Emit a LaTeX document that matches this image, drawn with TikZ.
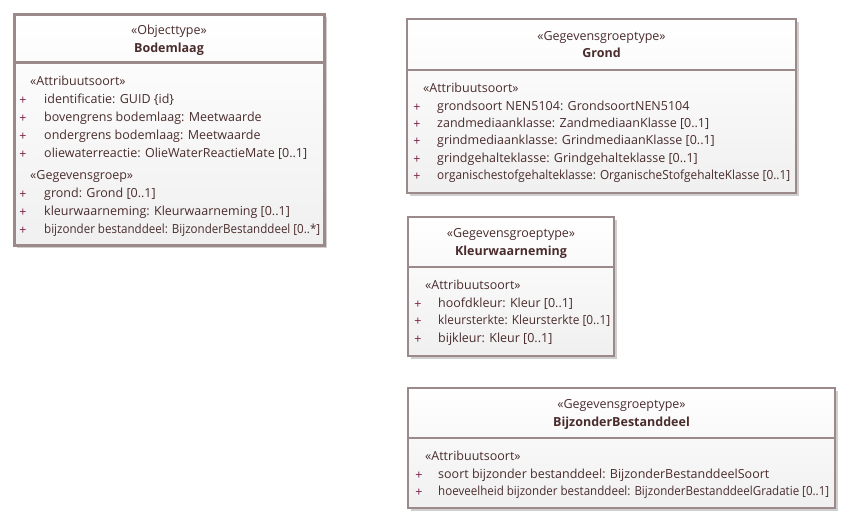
\documentclass[tikz,border=0pt]{standalone}
\usepackage{fontspec}
\usepackage{graphicx}
\setmainfont{Open Sans}
\definecolor{bordo}{HTML}{9C8A8A}
\definecolor{testo}{HTML}{4A2C2C}
\definecolor{piu}{HTML}{7A1E46}
\definecolor{ombra}{HTML}{CFCFCF}
%riga compressa in orizzontale
\newcommand{\stretta}[2]{\resizebox{#1}{\height}{#2}}
\begin{document}
\begin{tikzpicture}[x=1pt,y=-1pt,
    riquadro/.style={draw=bordo,line width=1.5pt,top color=white,bottom color=black!6},
    ombreggiatura/.style={fill=ombra,draw=none},
    stereotipo/.style={text=testo,inner sep=0pt,font=\fontsize{12.5}{14}\selectfont},
    nome/.style={text=testo,inner sep=0pt,font=\fontsize{12.5}{14}\selectfont\bfseries},
    attributo/.style={text=testo,inner sep=0pt,anchor=mid west,font=\fontsize{12.5}{14}\selectfont},
    segno/.style={text=piu,inner sep=0pt,font=\fontsize{12.5}{14}\selectfont}]
    \useasboundingbox (0,0) rectangle (853,525);

    %classe Bodemlaag
    \fill[ombreggiatura](17,17)rectangle(327,248);
    \draw[riquadro,line width=3pt](14,14)rectangle(324,245);
    \draw[bordo,line width=3pt](14,62)--(324,62);
    \node[stereotipo](bod-st)at(169,31){«Objecttype»};
    \node[nome](bod-nm)at(169,49){Bodemlaag};
    \node[attributo](bod-a0)at(30,83){«Attribuutsoort»};
    \foreach \riga [count=\i] in {{identificatie: GUID \{id\}},{bovengrens bodemlaag: Meetwaarde},{ondergrens bodemlaag: Meetwaarde},{oliewaterreactie: OlieWaterReactieMate [0..1]}}{
        \node[segno](bod-p\i)at(23,83+18*\i){+};
        \node[attributo](bod-a\i)at(44,83+18*\i){\riga};
    }
    \node[attributo](bod-g0)at(30,177){«Gegevensgroep»};
    \foreach \riga [count=\i] in {{grond: Grond [0..1]},{kleurwaarneming: Kleurwaarneming [0..1]},{\stretta{276pt}{bijzonder bestanddeel: BijzonderBestanddeel [0..*]}}}{
        \node[segno](bod-q\i)at(23,177+18*\i){+};
        \node[attributo](bod-g\i)at(44,177+18*\i){\riga};
    }

    %classe Grond
    \fill[ombreggiatura](410,22)rectangle(799,196);
    \draw[riquadro](407,19)rectangle(796,193);
    \draw[bordo,line width=1.5pt](407,70)--(796,70);
    \node[stereotipo](gr-st)at(601.5,37){«Gegevensgroeptype»};
    \node[nome](gr-nm)at(601.5,53){Grond};
    \node[attributo](gr-a0)at(423,90){«Attribuutsoort»};
    \foreach \riga [count=\i] in {{grondsoort NEN5104: GrondsoortNEN5104},{zandmediaanklasse: ZandmediaanKlasse [0..1]},{grindmediaanklasse: GrindmediaanKlasse [0..1]},{grindgehalteklasse: Grindgehalteklasse [0..1]},{\stretta{353pt}{organischestofgehalteklasse: OrganischeStofgehalteKlasse [0..1]}}}{
        \node[segno](gr-p\i)at(417,90+17.4*\i){+};
        \node[attributo](gr-a\i)at(437,90+17.4*\i){\riga};
    }

    %classe Kleurwaarneming
    \fill[ombreggiatura](411,220)rectangle(617,359);
    \draw[riquadro](408,217)rectangle(614,356);
    \draw[bordo,line width=1.5pt](408,267)--(614,267);
    \node[stereotipo](kl-st)at(511,234){«Gegevensgroeptype»};
    \node[nome](kl-nm)at(511,252){Kleurwaarneming};
    \node[attributo](kl-a0)at(425,287){«Attribuutsoort»};
    \foreach \riga [count=\i] in {{hoofdkleur: Kleur [0..1]},{\stretta{172pt}{kleursterkte: Kleursterkte [0..1]}},{bijkleur: Kleur [0..1]}}{
        \node[segno](kl-p\i)at(418,287+17.5*\i){+};
        \node[attributo](kl-a\i)at(438,287+17.5*\i){\riga};
    }

    %classe BijzonderBestanddeel
    \fill[ombreggiatura](411,391)rectangle(838,511);
    \draw[riquadro](408,388)rectangle(835,508);
    \draw[bordo,line width=1.5pt](408,438)--(835,438);
    \node[stereotipo](bb-st)at(621.5,405){«Gegevensgroeptype»};
    \node[nome](bb-nm)at(621.5,423){BijzonderBestanddeel};
    \node[attributo](bb-a0)at(425,458){«Attribuutsoort»};
    \foreach \riga [count=\i] in {{soort bijzonder bestanddeel: BijzonderBestanddeelSoort},{\stretta{391pt}{hoeveelheid bijzonder bestanddeel: BijzonderBestanddeelGradatie [0..1]}}}{
        \node[segno](bb-p\i)at(419,458+17.5*\i){+};
        \node[attributo](bb-a\i)at(438,458+17.5*\i){\riga};
    }
\end{tikzpicture}
\end{document}
